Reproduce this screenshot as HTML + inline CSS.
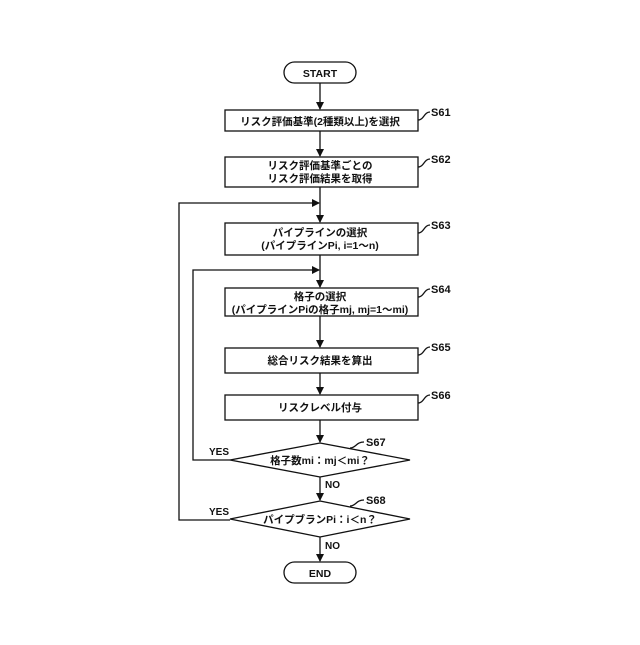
<!DOCTYPE html>
<html><head><meta charset="utf-8"><style>
html,body{margin:0;padding:0;background:#fff;}
svg text{font-family:"Liberation Sans","Noto Sans CJK JP",sans-serif;fill:#111;}
</style></head><body>
<svg width="640" height="640" viewBox="0 0 640 640" xmlns="http://www.w3.org/2000/svg">
<defs><marker id="a" markerWidth="8" markerHeight="8" refX="7" refY="4" orient="auto" markerUnits="userSpaceOnUse"><path d="M0,0 L8,4 L0,8 z" fill="#111"/></marker></defs>
<g stroke="#111" stroke-width="1.3" fill="none">
<rect x="284" y="62" width="72" height="21" rx="10.5"/>
<rect x="225" y="110" width="193" height="21"/>
<rect x="225" y="157" width="193" height="30"/>
<rect x="225" y="223" width="193" height="32"/>
<rect x="225" y="288" width="193" height="28"/>
<rect x="225" y="348" width="193" height="25"/>
<rect x="225" y="395" width="193" height="25"/>
<polygon points="320,443 410,460 320,477 230,460"/>
<polygon points="320,501 410,519 320,537 230,519"/>
<rect x="284" y="562" width="72" height="21" rx="10.5"/>
<line x1="320" y1="83" x2="320" y2="109" marker-end="url(#a)"/>
<line x1="320" y1="131" x2="320" y2="156" marker-end="url(#a)"/>
<line x1="320" y1="187" x2="320" y2="222" marker-end="url(#a)"/>
<line x1="320" y1="255" x2="320" y2="287" marker-end="url(#a)"/>
<line x1="320" y1="316" x2="320" y2="347" marker-end="url(#a)"/>
<line x1="320" y1="373" x2="320" y2="394" marker-end="url(#a)"/>
<line x1="320" y1="420" x2="320" y2="442" marker-end="url(#a)"/>
<line x1="320" y1="477" x2="320" y2="500" marker-end="url(#a)"/>
<line x1="320" y1="537" x2="320" y2="561" marker-end="url(#a)"/>
<polyline points="230,460 193,460 193,270 319,270" marker-end="url(#a)"/>
<polyline points="230,520 179,520 179,203 319,203" marker-end="url(#a)"/>
<path d="M418,120 C424,120 424,112 430,112"/>
<path d="M418,167 C424,167 424,159 430,159"/>
<path d="M418,233 C424,233 424,225 430,225"/>
<path d="M418,297 C424,297 424,289 430,289"/>
<path d="M418,355 C424,355 424,347 430,347"/>
<path d="M418,403 C424,403 424,395 430,395"/>
<path d="M350,448 C356,448 356,442 364,442"/>
<path d="M350,506 C356,506 356,500 364,500"/>
</g>
<g font-size="10.5" text-anchor="middle" font-weight="bold">
<text x="320" y="77">START</text>
<text x="320" y="125">リスク評価基準(2種類以上)を選択</text>
<text x="320" y="169">リスク評価基準ごとの</text>
<text x="320" y="182">リスク評価結果を取得</text>
<text x="320" y="236">パイプラインの選択</text>
<text x="320" y="249">(パイプラインPi, i=1～n)</text>
<text x="320" y="300">格子の選択</text>
<text x="320" y="313">(パイプラインPiの格子mj, mj=1～mi)</text>
<text x="320" y="364">総合リスク結果を算出</text>
<text x="320" y="411">リスクレベル付与</text>
<text x="320" y="464">格子数mi：mj＜mi？</text>
<text x="320" y="523">パイプブランPi：i＜n？</text>
<text x="320" y="577">END</text>
</g>
<g font-size="11" font-weight="bold">
<text x="431" y="116">S61</text>
<text x="431" y="163">S62</text>
<text x="431" y="229">S63</text>
<text x="431" y="293">S64</text>
<text x="431" y="351">S65</text>
<text x="431" y="399">S66</text>
<text x="366" y="446">S67</text>
<text x="366" y="504">S68</text>
<text x="209" y="455" font-size="10">YES</text>
<text x="209" y="515" font-size="10">YES</text>
<text x="325" y="488" font-size="10">NO</text>
<text x="325" y="549" font-size="10">NO</text>
</g>
</svg>
</body></html>
